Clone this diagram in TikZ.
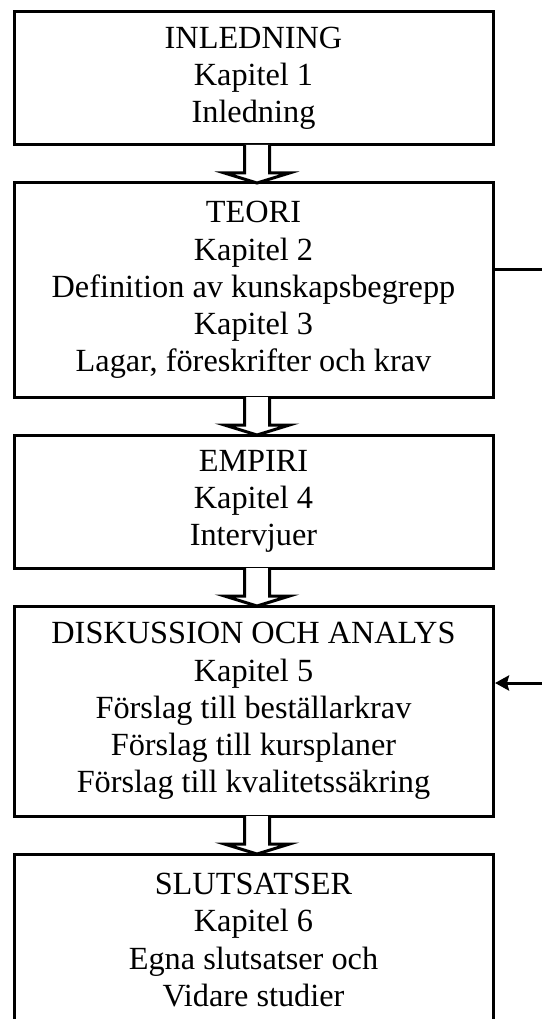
\documentclass[tikz,border=0pt]{standalone}
\usepackage{fontspec}
\setmainfont{Liberation Serif}
\usetikzlibrary{calc,arrows.meta}
\newcommand\chapfont{\fontsize{32.3}{37.2}\selectfont\lineskiplimit -50pt\relax}
\tikzset{
  chap/.style={draw, line width=3pt, minimum width=479pt, outer sep=0pt,
    align=center, inner sep=0pt, font=\chapfont},
  blockarrow/.style={draw, line width=3pt, fill=white},
  side/.style={line width=3pt},
}
\newcommand\hollowarrow[2]{%
  \draw[blockarrow] let \p1=(#1.south), \p2=(#2.north) in
    (\x1-9pt,\y1) -- (\x1-9pt,\y2+10pt) -- (\x1-29pt,\y2+10pt) --
    (\x1+3.5pt,\y2) -- (\x1+36pt,\y2+10pt) -- (\x1+16pt,\y2+10pt) --
    (\x1+16pt,\y1);}
\begin{document}
\begin{tikzpicture}[x=1pt,y=-1pt]
\useasboundingbox (0,0) rectangle (541,1019);
\node[chap, minimum height=133pt] (b1) at (253.5,78.5)
  {INLEDNING\\Kapitel 1\\Inledning};
\node[chap, minimum height=214pt] (b2) at (253.5,290)
  {TEORI\\Kapitel 2\\Definition av kunskapsbegrepp\\Kapitel 3\\Lagar, föreskrifter och krav};
\node[chap, minimum height=133pt] (b3) at (253.5,501.5)
  {EMPIRI\\Kapitel 4\\Intervjuer};
\node[chap, minimum height=210pt] (b4) at (253.5,711)
  {DISKUSSION OCH ANALYS\\Kapitel 5\\Förslag till beställarkrav\\Förslag till kursplaner\\Förslag till kvalitetssäkring};
\node[chap, minimum height=172pt] (b5) at (253.5,940)
  {SLUTSATSER\\Kapitel 6\\Egna slutsatser och\\Vidare studier};
\hollowarrow{b1}{b2}
\hollowarrow{b2}{b3}
\hollowarrow{b3}{b4}
\hollowarrow{b4}{b5}
\coordinate (e1) at (543,269);
\coordinate (e2) at (543,683);
\draw[side] (b2.east |- e1) -- (e1);
\draw[side,-{Stealth[length=14pt,width=15pt,inset=2pt]}] (e2) -- ($(b4.east |- e2)+(2,0)$);
\end{tikzpicture}
\end{document}
